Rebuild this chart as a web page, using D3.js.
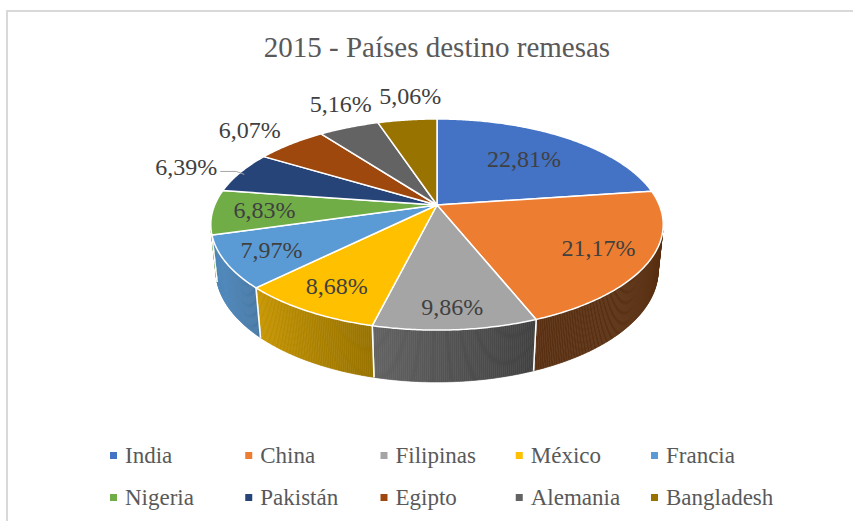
<!DOCTYPE html>
<html>
<head>
<meta charset="utf-8">
<script src="https://cdn.jsdelivr.net/npm/d3@7.9.0/dist/d3.min.js"></script>
</head>
<body style="margin:0">
<svg width="853" height="521"></svg>
<script>
const title = '2015 - Países destino remesas';
const countries = ['India', 'China', 'Filipinas', 'México', 'Francia', 'Nigeria', 'Pakistán', 'Egipto', 'Alemania', 'Bangladesh'];
const shares = [22.81, 21.17, 9.86, 8.68, 7.97, 6.83, 6.39, 6.07, 5.16, 5.06];
const colors = ['#4472c4', '#ed7d31', '#a5a5a5', '#ffc000', '#5b9bd5', '#70ad47', '#264478', '#9e480e', '#636363', '#997300'];

// label placement (fraction of radius for labels inside, pixel nudge for labels outside)
const insideRadius = { India: 0.65, China: 0.78, Filipinas: 0.85, 'México': 0.8, Francia: 0.8, Nigeria: 0.77 };
const outsideNudge = { 'Pakistán': [-23, 3], Egipto: [-41, -6], Alemania: [-8, -15], Bangladesh: [3, -16] };

const serif = '"Liberation Serif", "Times New Roman", Times';
const svg = d3.select('svg');

// 3d view of a unit pie: camera tilted, with perspective
const cx = 437, cy = 205, focal = 1067, dist = 4.8, thick = 0.234;
const tilt = 27.3 * Math.PI / 180;
const sinT = Math.sin(tilt), cosT = Math.cos(tilt);

function project(x, y, z) {
  const depth = dist - (y * sinT + z * cosT);
  return [cx + focal * x / depth, cy - focal * (y * cosT - z * sinT) / depth];
}
// angle 0 = back of the pie, clockwise seen from above
function rim(a, r, y) {
  return project(r * Math.sin(a), y, -r * Math.cos(a));
}
function arcPoints(a0, a1, r, y) {
  const n = Math.max(2, Math.ceil((a1 - a0) / 0.01));
  return d3.range(n + 1).map(i => rim(a0 + (a1 - a0) * i / n, r, y));
}

const line = d3.line();
const fmt = v => v.toFixed(2).replace('.', ',') + '%';

svg.append('rect')
  .attr('x', 7).attr('y', 11).attr('width', 900).attr('height', 600)
  .attr('fill', 'none').attr('stroke', '#d9d9d9').attr('stroke-width', 2);

svg.append('text')
  .attr('x', 437).attr('y', 57)
  .attr('text-anchor', 'middle')
  .style('font-family', serif)
  .attr('font-size', 29)
  .attr('fill', '#595959')
  .text(title);

const pie = d3.pie().sort(null).value(d => d.value);
const arcs = pie(countries.map((c, i) => ({ name: c, value: shares[i], color: colors[i] })));

// visible part of the side wall
const zTan = 1 / (dist * cosT);
const wallFrom = Math.acos(-zTan), wallTo = 2 * Math.PI - wallFrom;

function shade(a) {
  const deg = a * 180 / Math.PI;
  return Math.max(0.38, Math.min(0.88, 0.4 + (deg - 160) * 0.0058));
}

const walls = svg.append('g');
arcs.forEach(d => {
  const a0 = Math.max(d.startAngle, wallFrom), a1 = Math.min(d.endAngle, wallTo);
  if (a1 <= a0) return;
  const base = d3.rgb(d.data.color);
  const n = Math.ceil((a1 - a0) / 0.008);
  for (let i = 0; i < n; i++) {
    const b0 = a0 + (a1 - a0) * i / n, b1 = a0 + (a1 - a0) * (i + 1) / n;
    const f = shade((b0 + b1) / 2);
    const col = d3.rgb(base.r * f, base.g * f, base.b * f).formatHex();
    const pts = [rim(b0, 1, 0), rim(b1, 1, 0), rim(b1, 1, -thick), rim(b0, 1, -thick)];
    walls.append('path')
      .attr('d', line(pts) + 'Z')
      .attr('fill', col).attr('stroke', col).attr('stroke-width', 0.6);
  }
  // white seams at slice borders
  [d.startAngle, d.endAngle].forEach(a => {
    if (a > wallFrom && a < wallTo) {
      walls.append('path')
        .attr('d', line([rim(a, 1, 0), rim(a, 1, -thick)]))
        .attr('stroke', '#fff').attr('stroke-width', 1.5);
    }
  });
});

const tops = svg.append('g');
arcs.forEach(d => {
  const pts = [project(0, 0, 0), ...arcPoints(d.startAngle, d.endAngle, 1, 0)];
  tops.append('path')
    .attr('d', line(pts) + 'Z')
    .attr('fill', d.data.color)
    .attr('stroke', '#fff').attr('stroke-width', 1.5)
    .attr('stroke-linejoin', 'round');
});

const labels = svg.append('g')
  .attr('font-size', 24).attr('fill', '#404040');
arcs.forEach(d => {
  const mid = (d.startAngle + d.endAngle) / 2;
  const name = d.data.name;
  if (insideRadius[name] !== undefined) {
    const [x, y] = rim(mid, insideRadius[name], 0);
    labels.append('text')
      .attr('x', x).attr('y', y).attr('dy', '0.33em')
      .attr('text-anchor', 'middle')
      .style('font-family', serif)
      .text(fmt(d.data.value));
  } else {
    const [ex, ey] = rim(mid, 1, 0);
    const [nx, ny] = outsideNudge[name];
    const leader = name === 'Pakistán';
    labels.append('text')
      .attr('x', ex + nx).attr('y', ey + ny)
      .attr('text-anchor', leader ? 'end' : 'middle')
      .style('font-family', serif)
      .text(fmt(d.data.value));
    if (leader) {
      labels.append('path')
        .attr('d', line([[ex + nx + 3, ey - 1], [ex - 4, ey - 1], [ex + 4, ey + 2]]))
        .attr('fill', 'none').attr('stroke', '#a6a6a6').attr('stroke-width', 1);
    }
  }
});

// legend, two rows of five
const col = d3.scaleLinear().domain([0, 4]).range([110, 651]);
const rowY = [463, 505];
const legend = svg.append('g')
  .attr('font-size', 23).attr('fill', '#595959');
countries.forEach((c, i) => {
  const x = col(i % 5), y = rowY[Math.floor(i / 5)];
  legend.append('rect')
    .attr('x', x).attr('y', y - 11).attr('width', 7).attr('height', 7)
    .attr('fill', colors[i]);
  legend.append('text')
    .attr('x', x + 15).attr('y', y)
    .style('font-family', serif)
    .text(c);
});
</script>
</body>
</html>
